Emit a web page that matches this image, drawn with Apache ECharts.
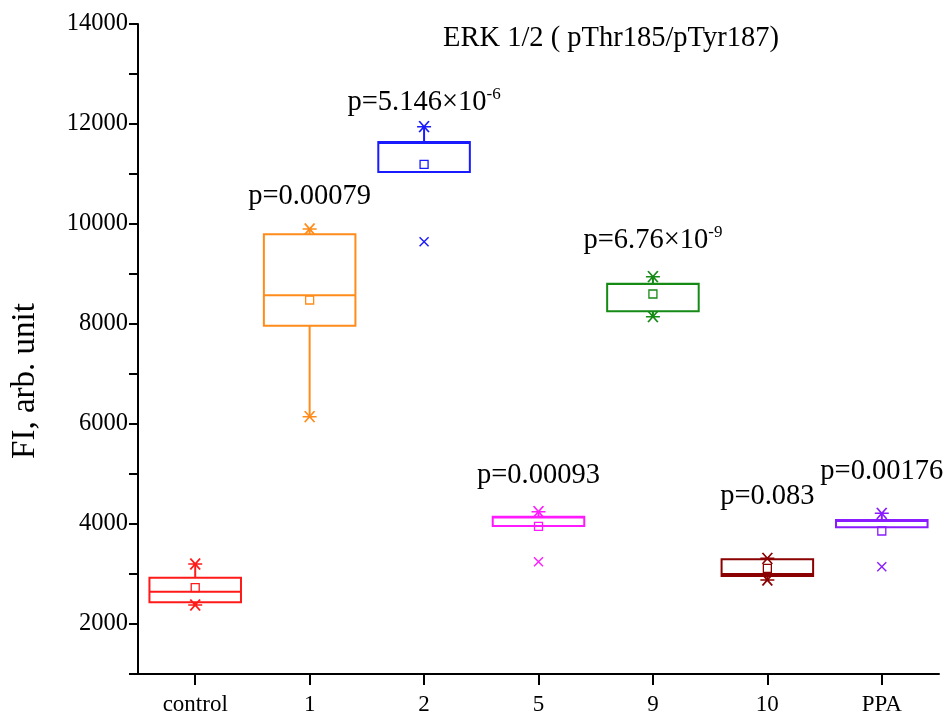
<!DOCTYPE html>
<html><head><meta charset="utf-8">
<script src="https://cdn.jsdelivr.net/npm/echarts@6/dist/echarts.min.js"></script>
<style>html,body{margin:0;padding:0;background:#fff}#c{width:948px;height:716px}</style>
</head><body><div id="c"></div>
<script>
const categories = ['control', '1', '2', '5', '9', '10', 'PPA'];
const whiskerLow  = [2380, 6146, 11040, 3960, 8146, 2880, 3934];
const q1          = [2434, 7966, 11040, 3960, 8254, 2960, 3934];
const median      = [2646, 8574, 11620, 4130, 8800, 3000, 4060];
const q3          = [2926, 9794, 11640, 4146, 8806, 3294, 4080];
const whiskerHigh = [3200, 9900, 11946, 4246, 8946, 3314, 4214];
const means       = [2726, 8480, 11194, 3954, 8600, 3114, 3860];
const starCat     = [0, 0, 1, 1, 2, 3, 4, 4, 5, 5, 6];
const starVal     = [3200, 2380, 9900, 6146, 11946, 4246, 8946, 8146, 3314, 2880, 4214];
const crossCat    = [2, 3, 6];
const crossVal    = [9646, 3246, 3146];
const pCat        = [1, 2, 3, 4, 5, 6];
const pText       = ['p=0.00079', 'p=5.146×10', 'p=0.00093', 'p=6.76×10', 'p=0.083', 'p=0.00176'];
const pExp        = ['', '-6', '', '-9', '', ''];
const pAt         = [10540, 12420, 4960, 9660, 4540, 5040];
const yTicks      = [2000, 4000, 6000, 8000, 10000, 12000, 14000];

const colors = ['#ff1a1a', '#ff8c1a', '#1a1aff', '#ff1aff', '#158a15', '#8b0000', '#8a1aff'];
const FONT = '"Liberation Serif", "DejaVu Serif", serif';

const chart = echarts.init(document.getElementById('c'), null, {renderer: 'canvas'});
const starPath = 'path://M0,7L20,7M3,0L17,14M3,14L17,0';
const crossPath = 'path://M0,0L14,14M0,14L14,0';

chart.setOption({
  animation: false,
  backgroundColor: '#ffffff',
  title: {
    text: 'ERK 1/2 ( pThr185/pTyr187)',
    left: 438, top: 19,
    textStyle: {fontFamily: FONT, fontSize: 28.5, fontWeight: 'normal', color: '#000'}
  },
  grid: {left: 138, right: 9, top: 24, bottom: 42},
  xAxis: {
    type: 'category',
    data: categories,
    boundaryGap: true,
    axisLine: {show: true, lineStyle: {color: '#000', width: 2}},
    axisTick: {show: true, interval: 0, alignWithLabel: true, inside: false, length: 11, lineStyle: {color: '#000', width: 2}},
    axisLabel: {fontFamily: FONT, fontSize: 23, color: '#000', margin: 19, interval: 0},
    splitLine: {show: false}
  },
  yAxis: {
    type: 'value',
    min: 1000, max: 14000, interval: 1000,
    name: 'FI, arb. unit',
    nameLocation: 'middle',
    nameGap: 96,
    nameRotate: 90,
    nameTextStyle: {fontFamily: FONT, fontSize: 33, color: '#000', padding: [0, 64, 0, 0]},
    axisLine: {show: true, lineStyle: {color: '#000', width: 2}},
    axisTick: {show: true, length: 9, lineStyle: {color: '#000', width: 2}},
    axisLabel: {
      fontFamily: FONT, fontSize: 24.5, color: '#000', margin: 10,
      formatter: v => (yTicks.indexOf(v) >= 0 ? String(v) : '')
    },
    splitLine: {show: false}
  },
  series: [
    {
      type: 'custom',
      data: categories.map((c, i) => [i, whiskerLow[i], q1[i], median[i], q3[i], whiskerHigh[i]]),
      encode: {x: 0, y: [1, 2, 3, 4, 5]},
      renderItem: function (params, api) {
        const i = api.value(0);
        const col = colors[i];
        const pLo = api.coord([i, api.value(1)]);
        const pQ1 = api.coord([i, api.value(2)]);
        const pMed = api.coord([i, api.value(3)]);
        const pQ3 = api.coord([i, api.value(4)]);
        const pHi = api.coord([i, api.value(5)]);
        const bw = api.size([1, 0])[0] * 0.8;
        const x = pQ1[0];
        const st = {stroke: col, lineWidth: 2, fill: null};
        return {
          type: 'group',
          children: [
            {type: 'line', shape: {x1: x, y1: pQ1[1], x2: x, y2: pLo[1]}, style: st},
            {type: 'line', shape: {x1: x, y1: pQ3[1], x2: x, y2: pHi[1]}, style: st},
            {type: 'rect', shape: {x: x - bw / 2, y: pQ3[1], width: bw, height: pQ1[1] - pQ3[1]}, style: {stroke: col, lineWidth: 2, fill: 'rgba(0,0,0,0)'}},
            {type: 'line', shape: {x1: x - bw / 2, y1: pMed[1], x2: x + bw / 2, y2: pMed[1]}, style: st}
          ]
        };
      },
      z: 2
    },
    {
      type: 'scatter',
      symbol: 'rect',
      symbolSize: 8,
      itemStyle: {opacity: 1},
      data: means.map((v, i) => ({value: [i, v], itemStyle: {color: 'rgba(0,0,0,0)', borderColor: colors[i], borderWidth: 1.3, opacity: 1}})),
      z: 3
    },
    {
      type: 'scatter',
      symbol: starPath,
      symbolSize: [14, 11],
      itemStyle: {opacity: 1},
      data: starVal.map((v, k) => ({value: [starCat[k], v], itemStyle: {color: 'rgba(0,0,0,0)', borderColor: colors[starCat[k]], borderWidth: 1.6, opacity: 1}})),
      z: 4
    },
    {
      type: 'scatter',
      symbol: crossPath,
      symbolSize: 9,
      itemStyle: {opacity: 1},
      data: crossVal.map((v, k) => ({value: [crossCat[k], v], itemStyle: {color: 'rgba(0,0,0,0)', borderColor: colors[crossCat[k]], borderWidth: 1.4, opacity: 1}})),
      z: 4
    },
    {
      type: 'scatter',
      symbolSize: 0,
      silent: true,
      itemStyle: {opacity: 1},
      data: pAt.map((v, k) => ({value: [pCat[k], v]})),
      label: {
        show: true,
        position: 'inside',
        color: '#000',
        opacity: 1,
        formatter: function (p) {
          const e = pExp[p.dataIndex];
          return '{a|' + pText[p.dataIndex] + '}' + (e ? '{s|' + e + '}' : '');
        },
        rich: {
          a: {fontFamily: FONT, fontSize: 28.5, color: '#000'},
          s: {fontFamily: FONT, fontSize: 17, color: '#000', padding: [0, 0, 17, 0]}
        }
      },
      z: 5
    }
  ]
});
</script>
</body></html>
